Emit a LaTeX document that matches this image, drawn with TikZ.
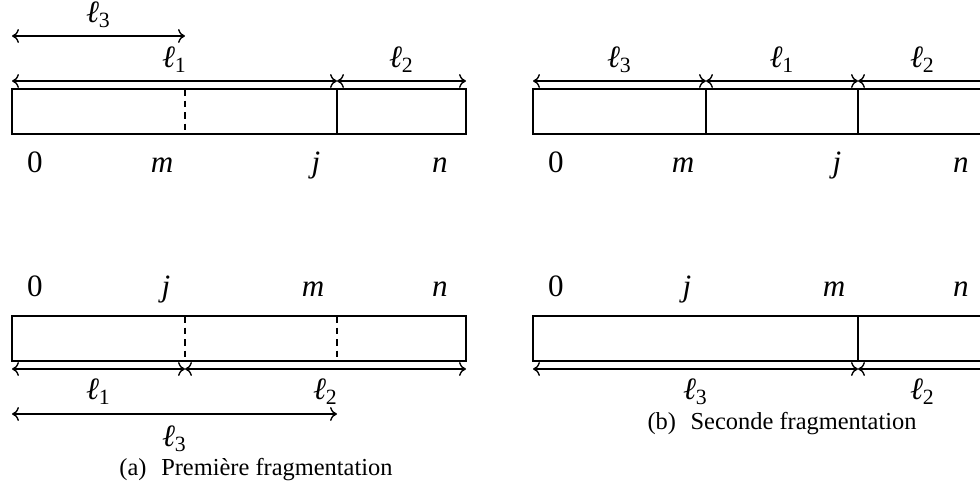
\documentclass[tikz,border=0pt]{standalone}
\usepackage{fontspec}
\setmainfont{Liberation Serif}
\usetikzlibrary{arrows.meta}

\newcommand{\ellab}[1]{\textit{ℓ}\textsubscript{#1}}

\begin{document}
\begin{tikzpicture}[
  x=0.434pt, y=-0.434pt,
  every node/.style={font=\fontsize{13.5}{16}\selectfont},
  bar/.style={line width=0.75pt},
  cut/.style={line width=0.75pt, dash pattern=on 3pt off 2pt},
  len/.style={{To[length=3pt,width=6pt]}-{To[length=3pt,width=6pt]}, line width=0.6pt},
  idx/.style={anchor=base},
  capt/.style={font=\fontsize{10.6}{12}\selectfont},
]
\useasboundingbox (0,0) rectangle (980,491);
\clip (0,0) rectangle (980,491);

% (a) first fragmentation, top: m inside l1
\coordinate (a3l) at (12,36);  \coordinate (a3r) at (185,36);
\coordinate (a0) at (12,81);   \coordinate (aj) at (337,81);  \coordinate (an) at (466,81);
\draw[bar] (12,89) rectangle (466,134);
\draw[cut] (185,89) -- (185,134);
\draw[bar] (337,89) -- (337,134);
\draw[len] (a3l) -- node[above] (al3) {\ellab{3}} (a3r);
\draw[len] (a0) -- node[above] (al1) {\ellab{1}} (aj);
\draw[len] (aj) -- node[above] (al2) {\ellab{2}} (an);
\node[idx] (ap0) at (35,173) {0};
\node[idx] (apm) at (162,173) {\textit{m}};
\node[idx] (apj) at (316,173) {\textit{j}};
\node[idx] (apn) at (440,173) {\textit{n}};

% (a) first fragmentation, bottom: j inside l3
\node[idx] (bp0) at (35,297) {0};
\node[idx] (bpj) at (166,297) {\textit{j}};
\node[idx] (bpm) at (313,297) {\textit{m}};
\node[idx] (bpn) at (440,297) {\textit{n}};
\draw[bar] (12,316) rectangle (466,361);
\draw[cut] (185,316) -- (185,361);
\draw[cut] (337,316) -- (337,361);
\coordinate (b0) at (12,369);  \coordinate (bj) at (185,369);  \coordinate (bn) at (466,369);
\coordinate (b3l) at (12,414); \coordinate (b3r) at (337,414);
\draw[len] (b0) -- node[below=0.5pt] (bl1) {\ellab{1}} (bj);
\draw[len] (bj) -- node[below=0.5pt] (bl2) {\ellab{2}} (bn);
\draw[len] (b3l) -- node[below=1.5pt] (bl3) {\ellab{3}} (b3r);
\node[capt] (capa) at (256,470) {(a)\hspace{0.6em}Première fragmentation};

% (b) second fragmentation, top
\coordinate (c0) at (533,81);  \coordinate (cm) at (706,81);
\coordinate (cj) at (858,81);  \coordinate (cn) at (987,81);
\draw[bar] (533,89) rectangle (987,134);
\draw[bar] (706,89) -- (706,134);
\draw[bar] (858,89) -- (858,134);
\draw[len] (c0) -- node[above] (cl3) {\ellab{3}} (cm);
\draw[len] (cm) -- node[above] (cl1) {\ellab{1}} (cj);
\draw[len] (cj) -- node[above] (cl2) {\ellab{2}} (cn);
\node[idx] (cp0) at (556,173) {0};
\node[idx] (cpm) at (683,173) {\textit{m}};
\node[idx] (cpj) at (837,173) {\textit{j}};
\node[idx] (cpn) at (961,173) {\textit{n}};

% (b) second fragmentation, bottom
\node[idx] (dp0) at (556,297) {0};
\node[idx] (dpj) at (687,297) {\textit{j}};
\node[idx] (dpm) at (834,297) {\textit{m}};
\node[idx] (dpn) at (961,297) {\textit{n}};
\draw[bar] (533,316) rectangle (987,361);
\draw[bar] (858,316) -- (858,361);
\coordinate (d0) at (533,369); \coordinate (dm) at (858,369); \coordinate (dn) at (987,369);
\draw[len] (d0) -- node[below=0.5pt] (dl3) {\ellab{3}} (dm);
\draw[len] (dm) -- node[below=0.5pt] (dl2) {\ellab{2}} (dn);
\node[capt] (capb) at (782,424) {(b)\hspace{0.6em}Seconde fragmentation};
\end{tikzpicture}
\end{document}
